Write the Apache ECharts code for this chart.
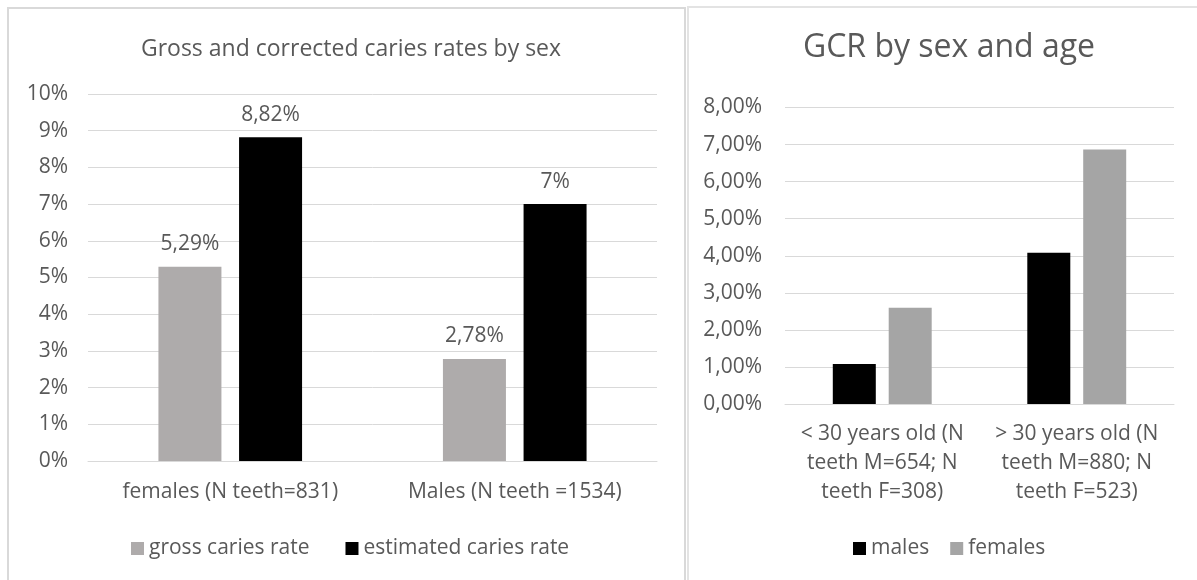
<!DOCTYPE html>
<html><head><meta charset="utf-8">
<script src="https://cdn.jsdelivr.net/npm/echarts@6/dist/echarts.min.js"></script>
<style>html,body{margin:0;padding:0;background:#fff}#c{width:1197px;height:580px}</style>
</head><body><div id="c"></div>
<script>
// Left chart data
const sexCategories = ['females (N teeth=831)', 'Males (N teeth =1534)'];
const grossRate = [5.29, 2.78];
const estimatedRate = [8.82, 7.00];
const grossLabels = ['5,29%', '2,78%'];
const estimatedLabels = ['8,82%', '7%'];
// Right chart data
const ageCategories = ['< 30 years old (N\nteeth M=654; N\nteeth F=308)', '> 30 years old (N\nteeth M=880; N\nteeth F=523)'];
const malesGCR = [1.08, 4.08];
const femalesGCR = [2.60, 6.87];

const FONT = 'Open Sans';
const TXT = '#595959';
const chart = echarts.init(document.getElementById('c'), null, {renderer: 'canvas'});
chart.setOption({
  animation: false,
  backgroundColor: '#fff',
  textStyle: {fontFamily: FONT, color: TXT},
  graphic: [
    {type: 'rect', shape: {x: 8, y: 8, width: 677, height: 600}, style: {fill: 'none', stroke: '#d9d9d9', lineWidth: 2}, silent: true},
    {type: 'rect', shape: {x: 688, y: 7, width: 600, height: 600}, style: {fill: 'none', stroke: '#e3e3e3', lineWidth: 2}, silent: true}
  ],
  title: [
    {text: 'Gross and corrected caries rates by sex', left: 346, textAlign: 'center', top: 33,
     textStyle: {fontFamily: FONT, fontSize: 23, fontWeight: 'normal', color: TXT}},
    {text: 'GCR by sex and age', left: 944, textAlign: 'center', top: 27,
     textStyle: {fontFamily: FONT, fontSize: 32, fontWeight: 'normal', color: TXT}}
  ],
  legend: [
    {data: ['gross caries rate', 'estimated caries rate'], left: 131, top: 538, padding: 0,
     icon: 'rect', itemWidth: 13, itemHeight: 13, itemGap: 36,
     textStyle: {fontFamily: FONT, fontSize: 21, color: TXT}},
    {data: ['males', 'females'], left: 853, top: 538, padding: 0,
     icon: 'rect', itemWidth: 13, itemHeight: 13, itemGap: 21,
     textStyle: {fontFamily: FONT, fontSize: 21, color: TXT}}
  ],
  grid: [
    {left: 88, right: 540, top: 94, bottom: 119},
    {left: 785, right: 23, top: 107.5, bottom: 176}
  ],
  xAxis: [
    {type: 'category', gridIndex: 0, data: sexCategories,
     axisLine: {lineStyle: {color: '#d9d9d9', width: 1}}, axisTick: {show: false},
     axisLabel: {fontFamily: FONT, fontSize: 21, color: TXT, margin: 21}},
    {type: 'category', gridIndex: 1, data: ageCategories,
     axisLine: {lineStyle: {color: '#d9d9d9', width: 1}}, axisTick: {show: false},
     axisLabel: {fontFamily: FONT, fontSize: 21, color: TXT, margin: 16, lineHeight: 29, interval: 0}}
  ],
  yAxis: [
    {type: 'value', gridIndex: 0, min: 0, max: 10, interval: 1,
     axisLine: {show: false}, axisTick: {show: false},
     splitLine: {lineStyle: {color: '#d9d9d9', width: 1}},
     axisLabel: {fontFamily: FONT, fontSize: 21, color: TXT, margin: 20, formatter: '{value}%'}},
    {type: 'value', gridIndex: 1, min: 0, max: 8, interval: 1,
     axisLine: {show: false}, axisTick: {show: false},
     splitLine: {lineStyle: {color: '#d9d9d9', width: 1}},
     axisLabel: {fontFamily: FONT, fontSize: 21, color: TXT, margin: 23,
       formatter: v => v.toFixed(2).replace('.', ',') + '%'}}
  ],
  series: [
    {name: 'gross caries rate', type: 'bar', xAxisIndex: 0, yAxisIndex: 0, data: grossRate,
     barWidth: 63, barGap: '28%', itemStyle: {color: '#aeabab'},
     label: {show: true, position: 'top', distance: 12, fontFamily: FONT, fontSize: 21, color: TXT,
       formatter: p => grossLabels[p.dataIndex]}},
    {name: 'estimated caries rate', type: 'bar', xAxisIndex: 0, yAxisIndex: 0, data: estimatedRate,
     barWidth: 63, barGap: '28%', itemStyle: {color: '#000000'},
     label: {show: true, position: 'top', distance: 12, fontFamily: FONT, fontSize: 21, color: TXT,
       formatter: p => estimatedLabels[p.dataIndex]}},
    {name: 'males', type: 'bar', xAxisIndex: 1, yAxisIndex: 1, data: malesGCR,
     barWidth: 43, barGap: '30%', itemStyle: {color: '#000000'}},
    {name: 'females', type: 'bar', xAxisIndex: 1, yAxisIndex: 1, data: femalesGCR,
     barWidth: 43, barGap: '30%', itemStyle: {color: '#a5a5a5'}}
  ]
});
</script></body></html>
